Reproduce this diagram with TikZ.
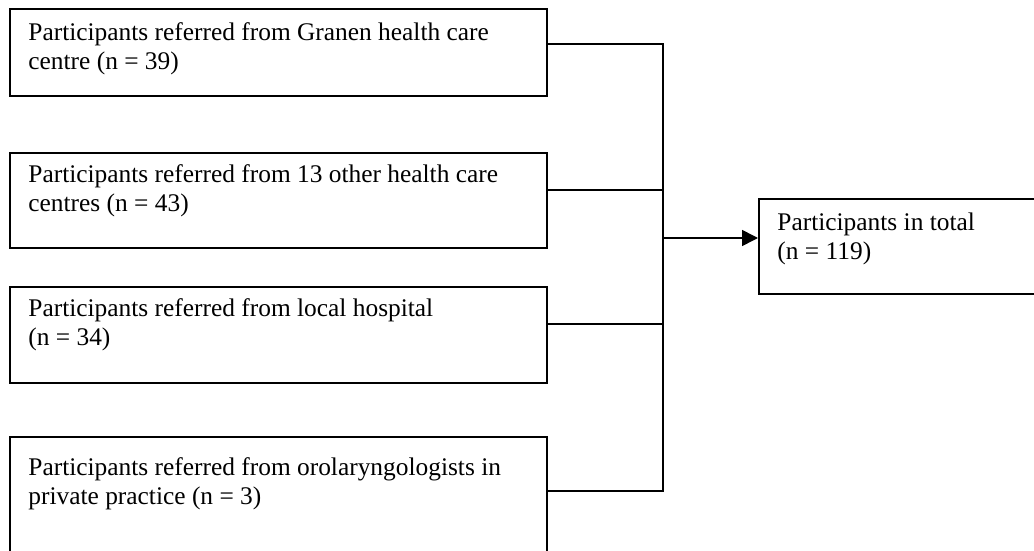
\documentclass[tikz,border=0pt]{standalone}
\usepackage{fontspec}
\setmainfont{Liberation Serif}
\usetikzlibrary{arrows.meta, positioning, calc}

\tikzset{
  srcbox/.style={draw, line width=0.8pt, anchor=north west, minimum width=268.5pt, inner sep=0pt},
  boxtext/.style={anchor=north west, inner sep=0pt, align=left, font=\fontsize{12.7pt}{14.5pt}\selectfont},
  link/.style={line width=0.8pt}
}

\begin{document}
\begin{tikzpicture}[x=0.5pt, y=-0.5pt]
\clip (0,0) rectangle (1034,551);

% referral sources
\node[srcbox, minimum height=43.5pt] (granen) at (9,8) {};
\node[srcbox, minimum height=47.5pt] (others) at (9,152) {};
\node[srcbox, minimum height=48pt] (hosp) at (9,286) {};
\node[srcbox, minimum height=100pt] (private) at (9,436) {};
\node[srcbox, minimum width=150pt, minimum height=47.5pt] (total) at (758,198) {};

\node[boxtext] (granentxt) at (28,22) {Participants referred from Granen health care\\centre (n = 39)};
\node[boxtext] (otherstxt) at (28,164) {Participants referred from 13 other health care\\centres (n = 43)};
\node[boxtext] (hosptxt) at (28,298) {Participants referred from local hospital\\(n = 34)};
\node[boxtext] (privatetxt) at (28,457) {Participants referred from orolaryngologists in\\private practice (n = 3)};
\node[boxtext] (totaltxt) at (777,212) {Participants in total\\(n = 119)};

% trunk
\coordinate (j1) at (663,44);
\coordinate (j2) at (663,190);
\coordinate (j3) at (663,324);
\coordinate (j4) at (663,491);
\coordinate (jt) at (663,238);

\draw[link] (granen.east |- j1) -- (j1) -- (j4) -- (private.east |- j4);
\draw[link] (others.east |- j2) -- (j2);
\draw[link] (hosp.east |- j3) -- (j3);
\draw[link, -{Triangle[length=8pt, width=8pt]}] (jt) -- (total.west |- jt);
\end{tikzpicture}
\end{document}
